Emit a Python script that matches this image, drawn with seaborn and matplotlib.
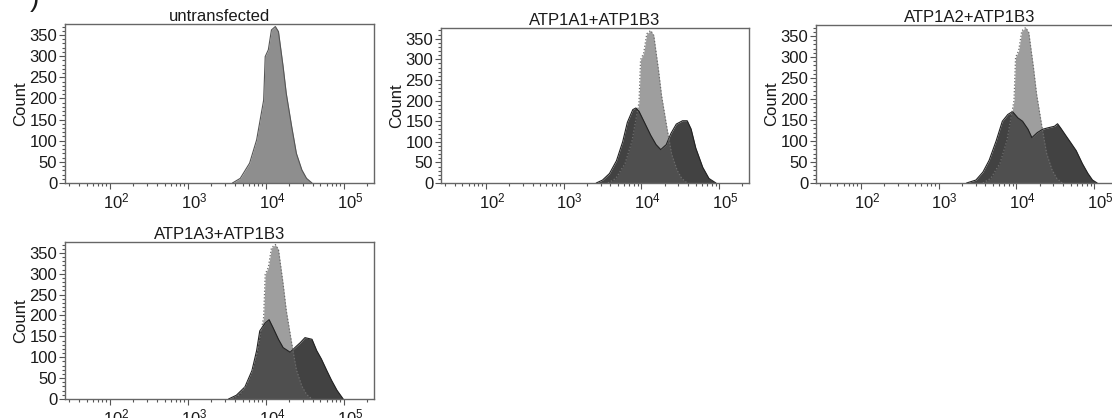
import numpy as np
import matplotlib
matplotlib.use("Agg")
import matplotlib.pyplot as plt
import matplotlib.transforms as mtransforms
from matplotlib.ticker import LogLocator, MultipleLocator, NullFormatter
import seaborn as sns

# log10 fluorescence intensity / event count
ctrl_log = [3.57, 3.67, 3.79, 3.88, 3.97, 3.99, 4.03, 4.07, 4.12, 4.16, 4.22, 4.26, 4.33, 4.39, 4.46, 4.52, 4.59]
ctrl_count = [0, 11, 47, 102, 196, 299, 315, 362, 370, 358, 275, 212, 133, 70, 31, 11, 0]

a1_log = [3.42, 3.50, 3.59, 3.68, 3.76, 3.82, 3.89, 3.93, 3.97, 4.04, 4.12, 4.19, 4.25, 4.32,
          4.38, 4.45, 4.53, 4.59, 4.64, 4.70, 4.79, 4.87, 4.96]
a1_count = [0, 7, 23, 54, 100, 147, 178, 182, 174, 147, 116, 93, 81, 93,
            120, 143, 151, 151, 131, 85, 38, 11, 0]

a2_log = [3.36, 3.48, 3.57, 3.65, 3.74, 3.82, 3.89, 3.95, 4.02, 4.08, 4.15, 4.20, 4.27, 4.34,
          4.40, 4.49, 4.53, 4.57, 4.64, 4.70, 4.77, 4.85, 4.92, 4.98, 5.04]
a2_count = [0, 7, 26, 54, 100, 147, 163, 170, 155, 147, 128, 108, 120, 128,
            131, 135, 141, 131, 112, 96, 77, 46, 23, 7, 0]

a3_log = [3.52, 3.62, 3.73, 3.82, 3.88, 3.92, 3.99, 4.04, 4.09, 4.16, 4.22, 4.31, 4.37, 4.44,
          4.50, 4.59, 4.65, 4.71, 4.78, 4.84, 4.91, 4.99]
a3_count = [0, 9, 29, 68, 116, 163, 182, 190, 171, 143, 123, 112, 123, 135,
            147, 143, 116, 96, 68, 45, 21, 0]

titles = ["untransfected", "ATP1A1+ATP1B3", "ATP1A2+ATP1B3", "ATP1A3+ATP1B3"]
samples = [None, (a1_log, a1_count), (a2_log, a2_count), (a3_log, a3_count)]

sns.set_style("ticks")
plt.rcParams["font.family"] = ["Liberation Sans", "DejaVu Sans"]
plt.rcParams["mathtext.fontset"] = "custom"
plt.rcParams["mathtext.rm"] = "Liberation Sans"

fig = plt.figure(figsize=(11.12, 4.18), dpi=100)

# axes boxes in pixels: left, top, right, bottom
boxes = [(65, 24, 374, 183), (441, 28, 749, 183), (816, 25, 1124, 183), (65, 242, 374, 399)]
W, H = 1112, 418

shift = mtransforms.ScaledTranslation(6 / 100, 0, fig.dpi_scale_trans)

for title, sample, (l, t, r, b) in zip(titles, samples, boxes):
    ax = fig.add_axes([l / W, 1 - b / H, (r - l) / W, (b - t) / H])
    ax.set_xscale("log")
    cx = 10 ** np.array(ctrl_log)
    if sample is None:
        ax.fill_between(cx, 0, ctrl_count, color="#8e8e8e", lw=0)
        sns.lineplot(x=cx, y=ctrl_count, ax=ax, color="#555555", lw=0.8, sort=False, estimator=None)
    else:
        sx = 10 ** np.array(sample[0])
        ax.fill_between(sx, 0, sample[1], color="#424242", lw=0)
        ax.fill_between(cx, 0, ctrl_count, color="#595959", alpha=0.58, lw=0)
        sns.lineplot(x=sx, y=sample[1], ax=ax, color="#222222", lw=0.8, sort=False, estimator=None)
        sns.lineplot(x=cx, y=ctrl_count, ax=ax, color="#6e6e6e", lw=0.9, ls=":", sort=False, estimator=None)

    ax.set_xlim(10 ** 1.423, 10 ** 5.385)
    ax.set_ylim(0, 376)
    ax.xaxis.set_major_locator(LogLocator(base=10, numticks=10))
    ax.xaxis.set_minor_locator(LogLocator(base=10, subs=np.arange(2, 10), numticks=20))
    ax.xaxis.set_minor_formatter(NullFormatter())
    ax.yaxis.set_major_locator(MultipleLocator(50))
    ax.yaxis.set_minor_locator(MultipleLocator(10))
    ax.tick_params(which="both", direction="out", color="#555555", width=0.8, labelcolor="#1a1a1a")
    ax.tick_params(which="major", length=4, pad=1.5)
    ax.tick_params(which="minor", length=2)
    ax.tick_params(axis="y", labelsize=12)
    ax.tick_params(axis="x", labelsize=12, pad=2)
    for sp in ax.spines.values():
        sp.set_color("#666666")
        sp.set_linewidth(1.0)
    ax.set_title(title, fontsize=12, pad=2, color="#1a1a1a")
    ax.set_ylabel("Count", fontsize=12, labelpad=1, color="#1a1a1a")
    ax.set_xlabel("")
    for lab in ax.get_xticklabels():
        lab.set_transform(lab.get_transform() + shift)

fig.text(30 / W, 1 - 12 / H, ")", fontsize=20, va="bottom", color="#1a1a1a")

fig.savefig("out.png", dpi=100)
